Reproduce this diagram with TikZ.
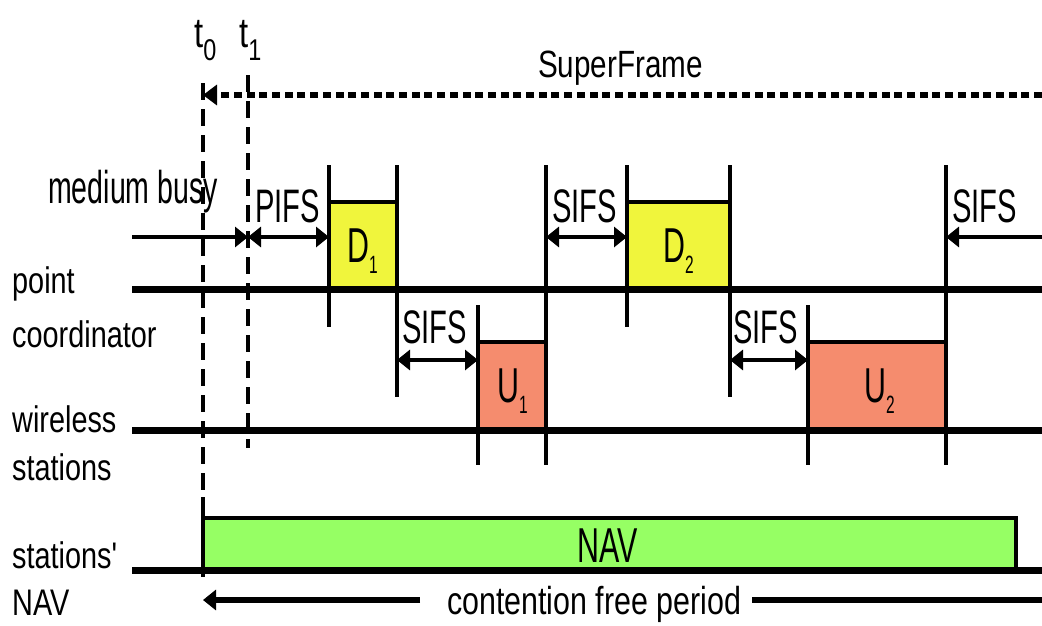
\documentclass[tikz,border=0pt]{standalone}
\usepackage{fontspec}
\setmainfont{Liberation Sans}
\newfontfamily\wideLab[FakeStretch=0.78]{Liberation Sans}
\newfontfamily\slimLab[FakeStretch=0.62]{Liberation Sans}
\usetikzlibrary{arrows.meta}
\definecolor{dyellow}{HTML}{F0F53C}
\definecolor{usalmon}{HTML}{F58C6E}
\definecolor{navgreen}{HTML}{96FF64}
\tikzset{
  timeline/.style={line width=7pt},
  tick/.style={line width=3.5pt},
  tline/.style={line width=4.5pt, dash pattern=on 17pt off 9pt},
  sfline/.style={line width=5.5pt, dash pattern=on 8pt off 4.7pt},
  gapboth/.style={line width=3.5pt, {Triangle[length=13pt,width=20pt]}-{Triangle[length=13pt,width=20pt]}},
  gapend/.style={line width=3.5pt, -{Triangle[length=13pt,width=20pt]}},
  framebox/.style={draw, line width=3.5pt, inner sep=0, outer sep=0},
  leftlab/.style={font=\wideLab\fontsize{37}{37}\selectfont, anchor=base west, inner sep=0},
  widelab/.style={font=\wideLab\fontsize{39}{39}\selectfont, anchor=base west, inner sep=0},
  ifslab/.style={font=\slimLab\fontsize{47}{47}\selectfont, anchor=base west, inner sep=0},
  boxlab/.style={font=\slimLab\fontsize{49}{49}\selectfont, anchor=base west, inner sep=0},
}
\newcommand\lowsub[1]{\raisebox{-11pt}{\fontsize{25}{25}\selectfont #1}}
\begin{document}
\begin{tikzpicture}[x=1pt,y=-1pt]
\useasboundingbox (0,0) rectangle (1042,625);

% NAV bar (drawn first so the time line covers its lower edge)
\node[framebox, fill=navgreen, minimum width=813pt, minimum height=52pt] (nav) at (609.5,544) {};
\node[boxlab] (navtxt) at (577,562) {NAV};

% data frames of the point coordinator
\node[framebox, fill=dyellow, minimum width=68pt, minimum height=87pt] (D1) at (362.5,245.5) {};
\node[framebox, fill=dyellow, minimum width=103pt, minimum height=87pt] (D2) at (678.5,245.5) {};
% uplink frames of the wireless stations
\node[framebox, fill=usalmon, minimum width=68pt, minimum height=88pt] (U1) at (512,386) {};
\node[framebox, fill=usalmon, minimum width=138pt, minimum height=88pt] (U2) at (877,386) {};

\node[boxlab] (d1txt) at (347,262) {D\lowsub{1}};
\node[boxlab] (d2txt) at (663,262) {D\lowsub{2}};
\node[boxlab] (u1txt) at (497,402) {U\lowsub{1}};
\node[boxlab] (u2txt) at (864,402) {U\lowsub{2}};

% time lines
\coordinate (pcL) at (132,289);  \coordinate (pcR) at (1042,289);
\coordinate (wsL) at (132,430);  \coordinate (wsR) at (1042,430);
\coordinate (nvL) at (132,570);  \coordinate (nvR) at (1042,570);
\draw[timeline] (pcL) -- (pcR);
\draw[timeline] (wsL) -- (wsR);
\draw[timeline] (nvL) -- (nvR);

% frame boundary ticks
\draw[tick] (329,165) -- (329,327);
\draw[tick] (397,165) -- (397,397);
\draw[tick] (478,305) -- (478,465);
\draw[tick] (546,165) -- (546,465);
\draw[tick] (627,165) -- (627,327);
\draw[tick] (730,165) -- (730,397);
\draw[tick] (808,305) -- (808,465);
\draw[tick] (946,165) -- (946,465);

% t0 and t1 markers
\coordinate (t0top) at (203,83);
\coordinate (t0mid) at (203,490);
\coordinate (t0box) at (203,497);
\coordinate (t0bot) at (203,577);
\coordinate (t1top) at (248,75);
\coordinate (t1bot) at (248,448);
\draw[tline] (t0top) -- (t0mid);
\draw[line width=4.5pt] (t0box) -- (t0bot);
\draw[tline] (t1top) -- (t1bot);
\node[widelab, font=\wideLab\fontsize{42}{42}\selectfont] (t0txt) at (194,47) {t\raisebox{-13pt}{\fontsize{30}{30}\selectfont 0}};
\node[widelab, font=\wideLab\fontsize{42}{42}\selectfont] (t1txt) at (239,47) {t\raisebox{-13pt}{\fontsize{30}{30}\selectfont 1}};

% superframe
\coordinate (sfR) at (1042,95);
\coordinate (sfL) at (203,95);
\draw[sfline, -{Triangle[length=14pt,width=20pt]}] (sfR) -- (sfL);
\node[widelab, font=\wideLab\fontsize{38}{38}\selectfont] (sftxt) at (538,77) {SuperFrame};

% medium busy and PIFS
\coordinate (mbL) at (132,237);
\coordinate (t1m) at (248,237);
\coordinate (d1m) at (329,237);
\draw[gapend] (mbL) -- (t1m);
\draw[gapboth] (t1m) -- (d1m);
\node[ifslab, font=\slimLab\fontsize{46}{46}\selectfont] (mbtxt) at (48,203) {medium busy};
\node[ifslab] (pifs) at (255,222) {PIFS};

% SIFS gaps
\coordinate (s1a) at (397,360); \coordinate (s1b) at (478,360);
\coordinate (s2a) at (546,237); \coordinate (s2b) at (627,237);
\coordinate (s3a) at (730,360); \coordinate (s3b) at (808,360);
\coordinate (s4a) at (1042,237); \coordinate (s4b) at (946,237);
\draw[gapboth] (s1a) -- (s1b);
\draw[gapboth] (s2a) -- (s2b);
\draw[gapboth] (s3a) -- (s3b);
\draw[gapend] (s4a) -- (s4b);
\node[ifslab] (sifs1) at (402,343) {SIFS};
\node[ifslab] (sifs2) at (552,222) {SIFS};
\node[ifslab] (sifs3) at (733,343) {SIFS};
\node[ifslab] (sifs4) at (952,222) {SIFS};

% contention free period
\coordinate (cfA) at (420,600);
\coordinate (cfL) at (203,600);
\coordinate (cfB) at (752,600);
\coordinate (cfR) at (1042,600);
\draw[line width=5.5pt, -{Triangle[length=13pt,width=20pt]}] (cfA) -- (cfL);
\draw[line width=5.5pt] (cfB) -- (cfR);
\node[widelab] (cftxt) at (447,614) {contention free period};

% row labels
\node[leftlab] (pc1) at (12,293) {point};
\node[leftlab] (pc2) at (12,347) {coordinator};
\node[leftlab] (ws1) at (12,432) {wireless};
\node[leftlab] (ws2) at (12,480) {stations};
\node[leftlab] (nv1) at (12,568) {stations'};
\node[leftlab] (nv2) at (12,615) {NAV};
\end{tikzpicture}
\end{document}
